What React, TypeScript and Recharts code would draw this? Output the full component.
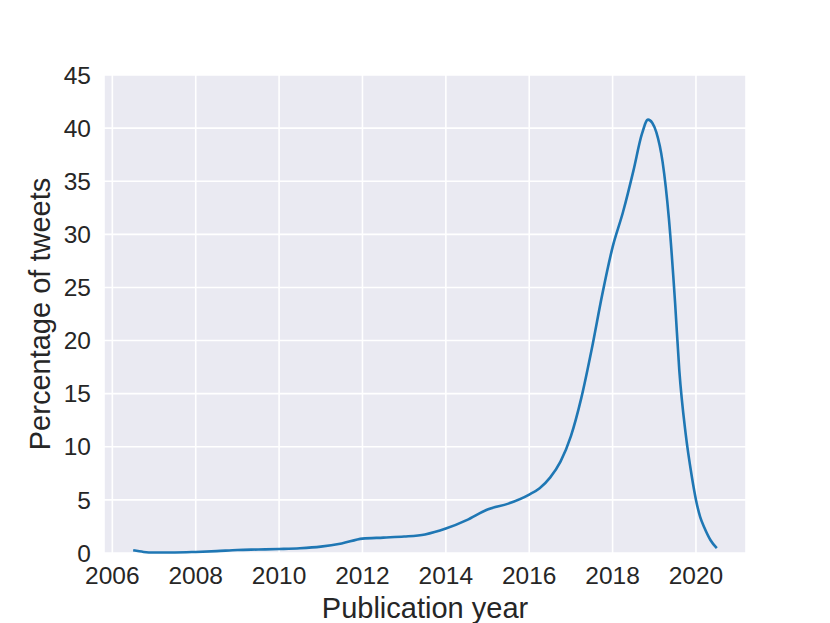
import { LineChart, Line, XAxis, YAxis, CartesianGrid } from 'recharts'

// years are fractional (smoothed density curve)
const years = [
  2006.5, 2006.75, 2007.0, 2007.5, 2008.0, 2008.5, 2009.0, 2009.5, 2010.0, 2010.5,
  2011.0, 2011.5, 2012.0, 2012.5, 2013.0, 2013.5, 2014.0, 2014.5, 2015.0, 2015.5,
  2016.0, 2016.25, 2016.5, 2016.75, 2017.0, 2017.25, 2017.5, 2017.75, 2018.0, 2018.25,
  2018.5, 2018.7, 2018.85, 2018.95, 2019.05, 2019.2, 2019.35, 2019.5, 2019.6, 2019.75,
  2019.9, 2020.0, 2020.1, 2020.2, 2020.35, 2020.5,
]

const percentages = [
  0.25, 0.1, 0.05, 0.05, 0.1, 0.18, 0.28, 0.33, 0.38, 0.45,
  0.6, 0.9, 1.35, 1.45, 1.55, 1.75, 2.3, 3.1, 4.1, 4.65,
  5.5, 6.1, 7.1, 8.6, 11.0, 14.6, 19.2, 24.3, 28.8, 32.1,
  36.0, 39.4, 40.8, 40.5, 39.6, 36.8, 31.5, 23.5, 17.2, 11.3,
  7.2, 5.0, 3.4, 2.4, 1.2, 0.45,
]

const xTicks = [2006, 2008, 2010, 2012, 2014, 2016, 2018, 2020]
const yTicks = [0, 5, 10, 15, 20, 25, 30, 35, 40, 45]

const data = years.map((year, i) => ({ year, pct: percentages[i] }))

const FONT = '"Liberation Sans", Arial, Helvetica, sans-serif'
const TEXT = '#262626'

const XLabel = ({ viewBox }: any) => (
  <text
    x={viewBox.x + viewBox.width / 2}
    y={viewBox.y + 65}
    textAnchor="middle"
    fill={TEXT}
    fontSize={29}
    fontFamily={FONT}
  >
    Publication year
  </text>
)

const YLabel = ({ viewBox }: any) => {
  const x = viewBox.x + 49.5
  const y = viewBox.y + viewBox.height / 2
  return (
    <text
      x={x}
      y={y}
      transform={`rotate(-90, ${x}, ${y})`}
      textAnchor="middle"
      fill={TEXT}
      fontSize={29}
      fontFamily={FONT}
    >
      Percentage of tweets
    </text>
  )
}

export default function App() {
  return (
    <div style={{ position: 'absolute', left: 0, top: 0, background: '#fff' }}>
      <LineChart
        width={830}
        height={623}
        data={data}
        margin={{ top: 75, right: 84, bottom: 0, left: 0 }}
      >
        <CartesianGrid fill="#EAEAF2" stroke="#ffffff" strokeWidth={1.6} />
        <XAxis
          dataKey="year"
          type="number"
          domain={[2005.8, 2021.2]}
          ticks={xTicks}
          interval={0}
          height={70}
          axisLine={false}
          tickLine={false}
          tickSize={0}
          tickMargin={14}
          tick={{ fill: TEXT, fontSize: 24.5, fontFamily: FONT }}
          label={<XLabel />}
        />
        <YAxis
          type="number"
          domain={[0, 45]}
          ticks={yTicks}
          interval={0}
          width={104}
          axisLine={false}
          tickLine={false}
          tickSize={0}
          tickMargin={13}
          tick={{ fill: TEXT, fontSize: 24.5, fontFamily: FONT }}
          label={<YLabel />}
        />
        <Line
          type="monotone"
          dataKey="pct"
          stroke="#1f77b4"
          strokeWidth={2.6}
          dot={false}
          isAnimationActive={false}
        />
      </LineChart>
    </div>
  )
}
